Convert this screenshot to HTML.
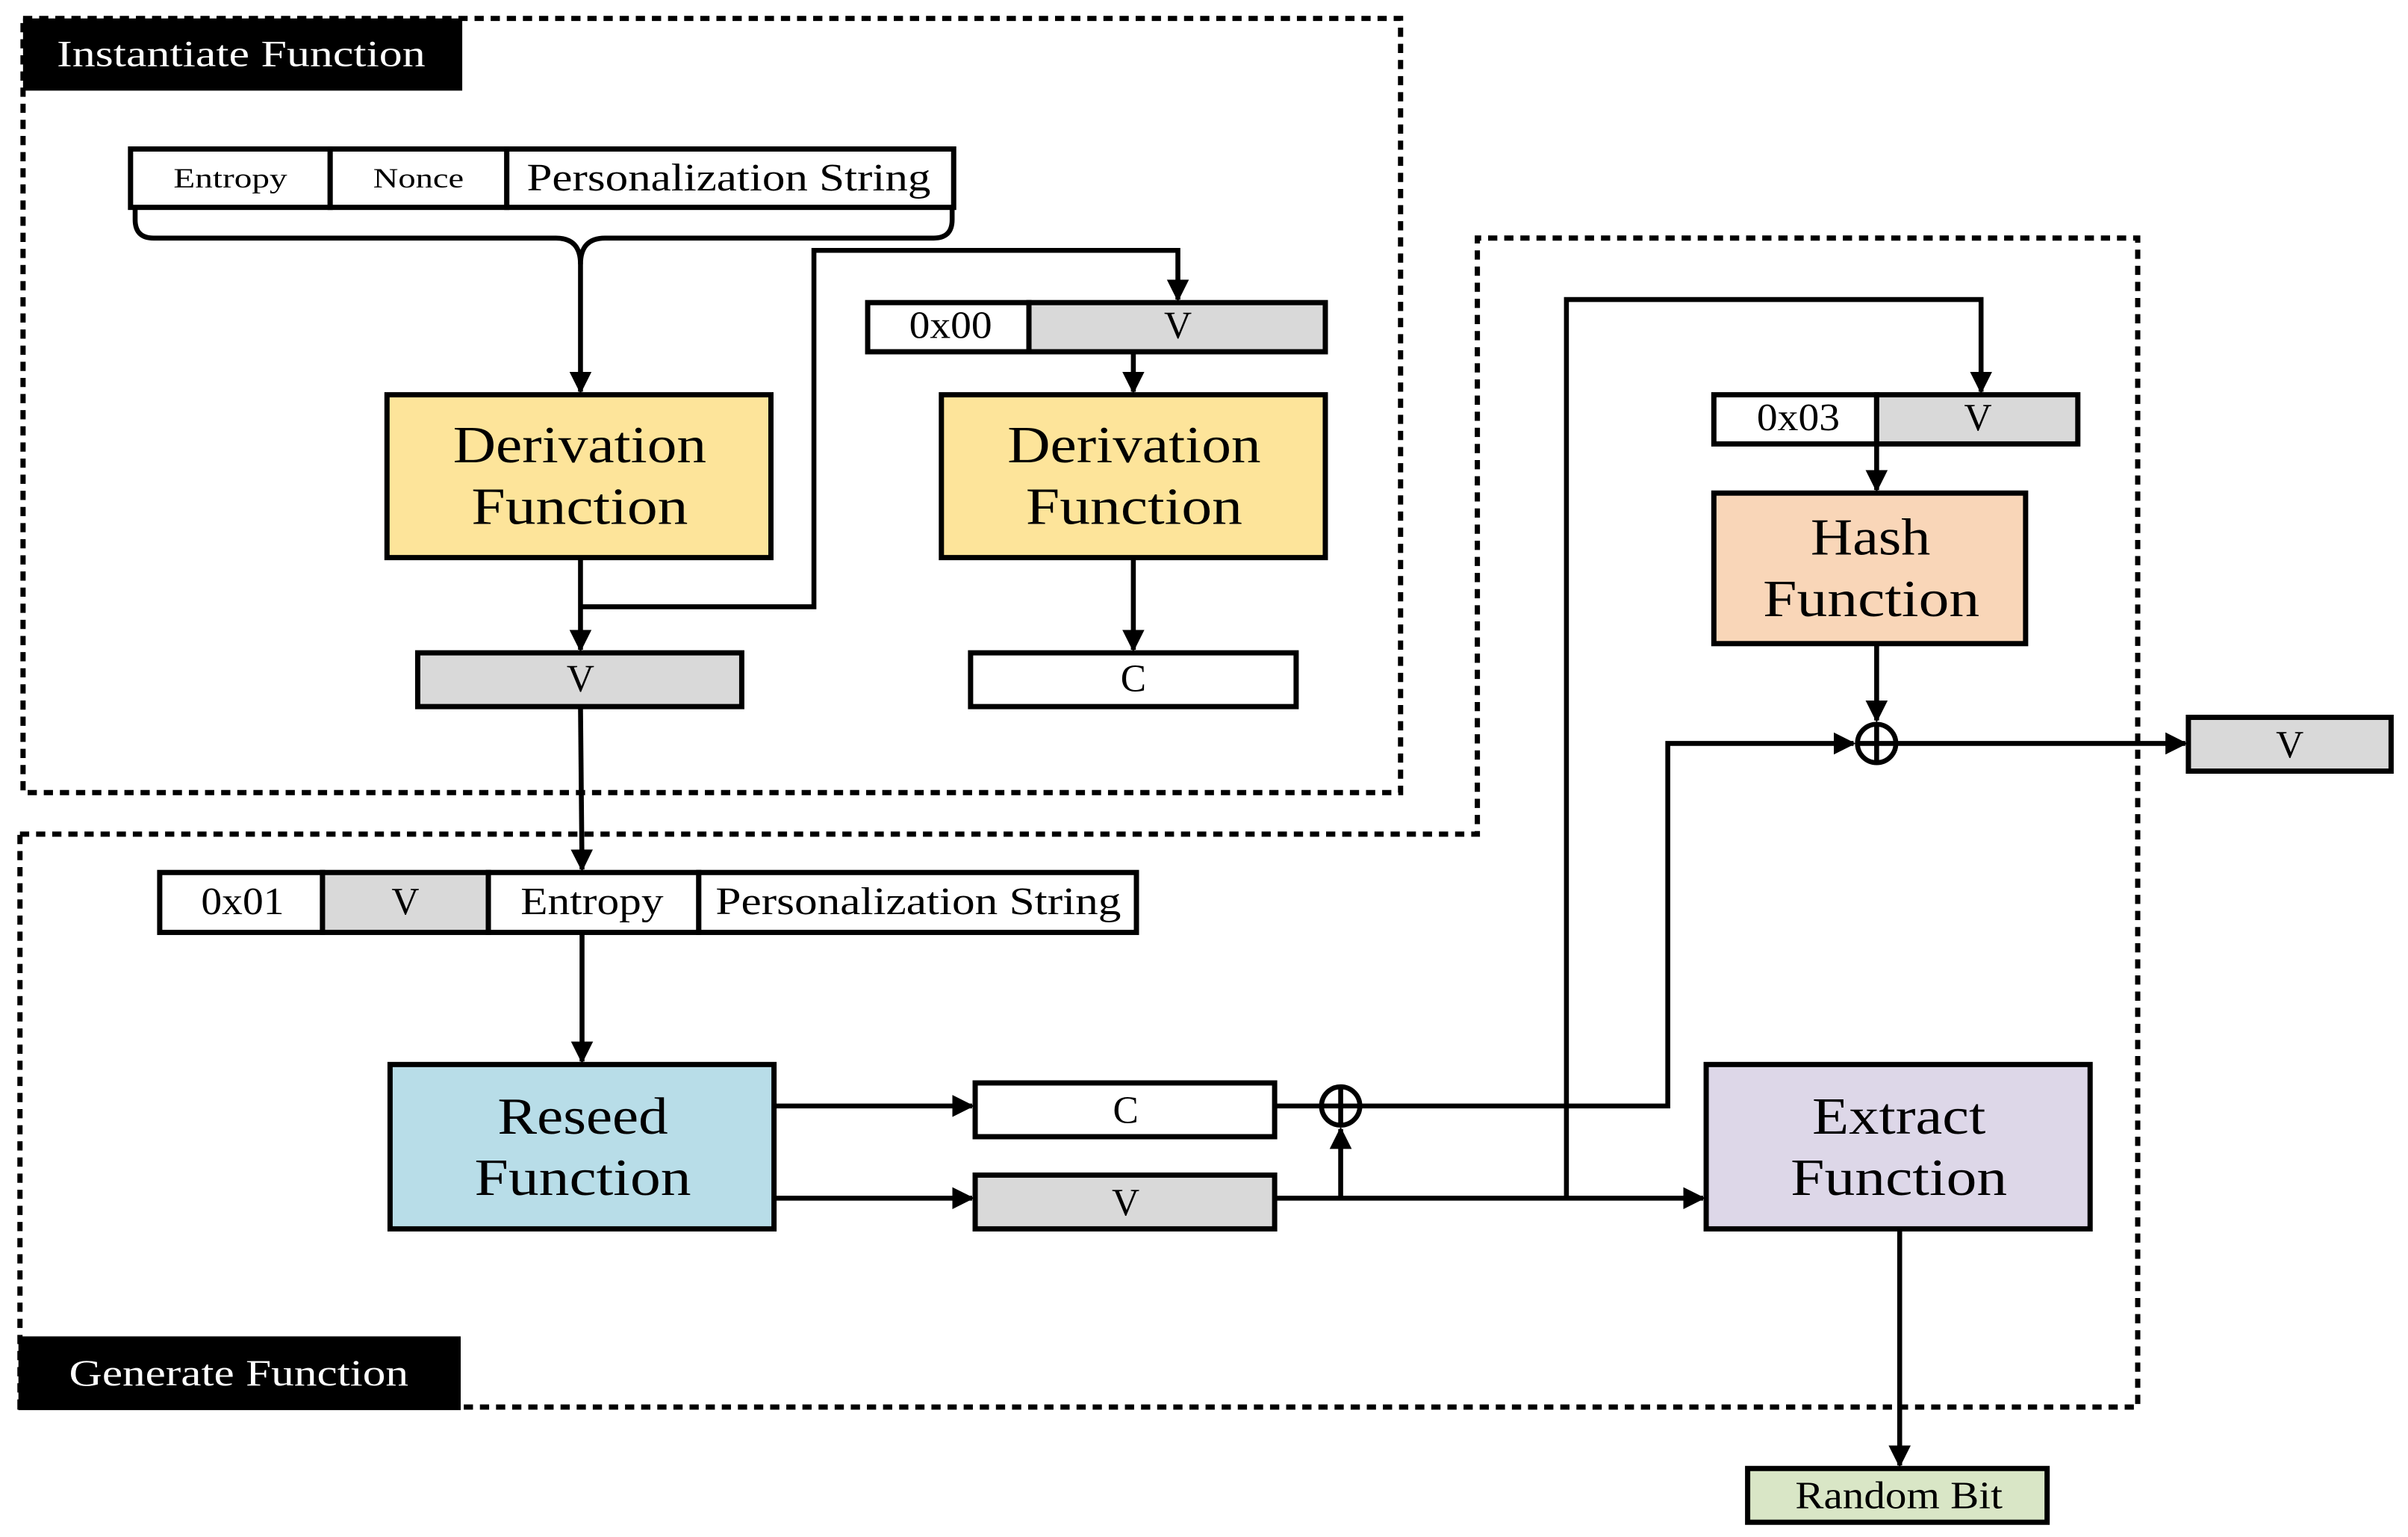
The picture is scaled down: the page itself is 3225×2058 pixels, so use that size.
<!DOCTYPE html>
<html><head><meta charset="utf-8"><style>html,body{margin:0;padding:0;background:#fff}svg{display:block}</style></head><body>
<svg width="3225" height="2058" viewBox="0 0 1568 1000.6" xmlns="http://www.w3.org/2000/svg" font-family="'Liberation Serif', serif">
<defs><marker id="a" viewBox="0 0 10 10" refX="9" refY="5" markerWidth="4.5" markerHeight="4.5" orient="auto" markerUnits="strokeWidth"><path d="M0,0 L10,5 L0,10z" fill="#000"/></marker></defs>
<g fill="none" stroke="#000" stroke-width="3.4" stroke-dasharray="6 4.5">
<rect x="15" y="12" width="897" height="504"/>
<path d="M13,543 H962 V155 H1392 V916 H13 Z"/>
</g>
<g lengthAdjust="spacingAndGlyphs">
<rect x="15" y="12" width="286" height="47" fill="#000"/>
<text x="37" y="43" fill="#fff" font-size="24" textLength="240" lengthAdjust="spacingAndGlyphs">Instantiate Function</text>
<rect x="12" y="870" width="288" height="48" fill="#000"/>
<text x="45" y="902" fill="#fff" font-size="24" textLength="221" lengthAdjust="spacingAndGlyphs">Generate Function</text>
</g>
<g stroke="#000" stroke-width="3.4">
<rect x="85" y="97" width="130" height="38" fill="#fff"/><rect x="215" y="97" width="115" height="38" fill="#fff"/><rect x="330" y="97" width="291" height="38" fill="#fff"/>
<rect x="565" y="197" width="105" height="32" fill="#fff"/><rect x="670" y="197" width="193" height="32" fill="#d9d9d9"/>
<rect x="252" y="257" width="250" height="106" fill="#fde49a"/><rect x="613" y="257" width="250" height="106" fill="#fde49a"/>
<rect x="272" y="425" width="211" height="35" fill="#d9d9d9"/><rect x="632" y="425" width="212" height="35" fill="#fff"/>
<rect x="104" y="568" width="106" height="39" fill="#fff"/><rect x="210" y="568" width="108" height="39" fill="#d9d9d9"/><rect x="318" y="568" width="137" height="39" fill="#fff"/><rect x="455" y="568" width="285" height="39" fill="#fff"/>
<rect x="254" y="693" width="250" height="107" fill="#b8dde8"/>
<rect x="635" y="705" width="195" height="35" fill="#fff"/><rect x="635" y="765" width="195" height="35" fill="#d9d9d9"/>
<rect x="1111" y="693" width="250" height="107" fill="#ddd7e8"/>
<rect x="1116" y="257" width="106" height="32" fill="#fff"/><rect x="1222" y="257" width="131" height="32" fill="#d9d9d9"/>
<rect x="1116" y="321" width="203" height="98" fill="#f9d6b8"/>
<rect x="1425" y="467" width="132" height="35" fill="#d9d9d9"/>
<rect x="1138" y="956" width="195" height="35" fill="#d9e6c6"/>
</g>
<g fill="none" stroke="#000" stroke-width="3.2">
<path d="M88,135 V143 Q88,155 100,155 H362 Q378,155 378,172 V255" marker-end="url(#a)"/>
<path d="M620,135 V143 Q620,155 608,155 H394 Q378,155 378,172"/>
<path d="M378,363 V423" marker-end="url(#a)"/>
<path d="M378,395 H530 V163 H767 V195" marker-end="url(#a)"/>
<path d="M738,229 V255" marker-end="url(#a)"/>
<path d="M738,363 V423" marker-end="url(#a)"/>
<path d="M378,460 L379,566" marker-end="url(#a)"/>
<path d="M379,607 V691" marker-end="url(#a)"/>
<path d="M504,720 H633" marker-end="url(#a)"/>
<path d="M504,780 H633" marker-end="url(#a)"/>
<path d="M830,780 H1109" marker-end="url(#a)"/>
<path d="M873,780 V735" marker-end="url(#a)"/>
<path d="M830,720 H860"/>
<path d="M886,720 H1086 V484 H1207" marker-end="url(#a)"/>
<path d="M1020,780 V195 H1290 V255" marker-end="url(#a)"/>
<path d="M1222,289 V319" marker-end="url(#a)"/>
<path d="M1222,419 V469" marker-end="url(#a)"/>
<path d="M1235,484 H1423" marker-end="url(#a)"/>
<path d="M1237,800 V954" marker-end="url(#a)"/>
<circle cx="873" cy="720" r="12.5"/><path d="M860.5,720 H885.5 M873,707.5 V732.5"/>
<circle cx="1222" cy="484" r="12.5"/><path d="M1209.5,484 H1234.5 M1222,471.5 V496.5"/>
</g>
<g font-size="18" fill="#000">
<text x="113" y="122" textLength="74" lengthAdjust="spacingAndGlyphs">Entropy</text><text x="243" y="122" textLength="59" lengthAdjust="spacingAndGlyphs">Nonce</text>
</g>
<g font-size="25" fill="#000">
<text x="343" y="124" textLength="263" lengthAdjust="spacingAndGlyphs">Personalization String</text>
<text x="592" y="220" textLength="54" lengthAdjust="spacingAndGlyphs">0x00</text>
<text x="131" y="595" textLength="54" lengthAdjust="spacingAndGlyphs">0x01</text>
<text x="339" y="595" textLength="93" lengthAdjust="spacingAndGlyphs">Entropy</text>
<text x="466" y="595" textLength="264" lengthAdjust="spacingAndGlyphs">Personalization String</text>
<text x="1144" y="280" textLength="54" lengthAdjust="spacingAndGlyphs">0x03</text>
<text x="1169" y="982" textLength="135" lengthAdjust="spacingAndGlyphs">Random Bit</text>
</g>
<g font-size="25" text-anchor="middle" fill="#000">
<text x="767" y="220">V</text>
<text x="378" y="450">V</text><text x="738" y="450">C</text>
<text x="264" y="595">V</text>
<text x="733" y="731">C</text><text x="733" y="791">V</text>
<text x="1288" y="280">V</text>
<text x="1491" y="493">V</text>
</g>
<g font-size="34" fill="#000">
<text x="295" y="301" textLength="165" lengthAdjust="spacingAndGlyphs">Derivation</text><text x="307" y="341" textLength="141" lengthAdjust="spacingAndGlyphs">Function</text>
<text x="656" y="301" textLength="165" lengthAdjust="spacingAndGlyphs">Derivation</text><text x="668" y="341" textLength="141" lengthAdjust="spacingAndGlyphs">Function</text>
<text x="324" y="738" textLength="111" lengthAdjust="spacingAndGlyphs">Reseed</text><text x="309" y="778" textLength="141" lengthAdjust="spacingAndGlyphs">Function</text>
<text x="1180" y="738" textLength="113" lengthAdjust="spacingAndGlyphs">Extract</text><text x="1166" y="778" textLength="141" lengthAdjust="spacingAndGlyphs">Function</text>
<text x="1179" y="361" textLength="78" lengthAdjust="spacingAndGlyphs">Hash</text><text x="1148" y="401" textLength="141" lengthAdjust="spacingAndGlyphs">Function</text>
</g>
</svg>
</body></html>
